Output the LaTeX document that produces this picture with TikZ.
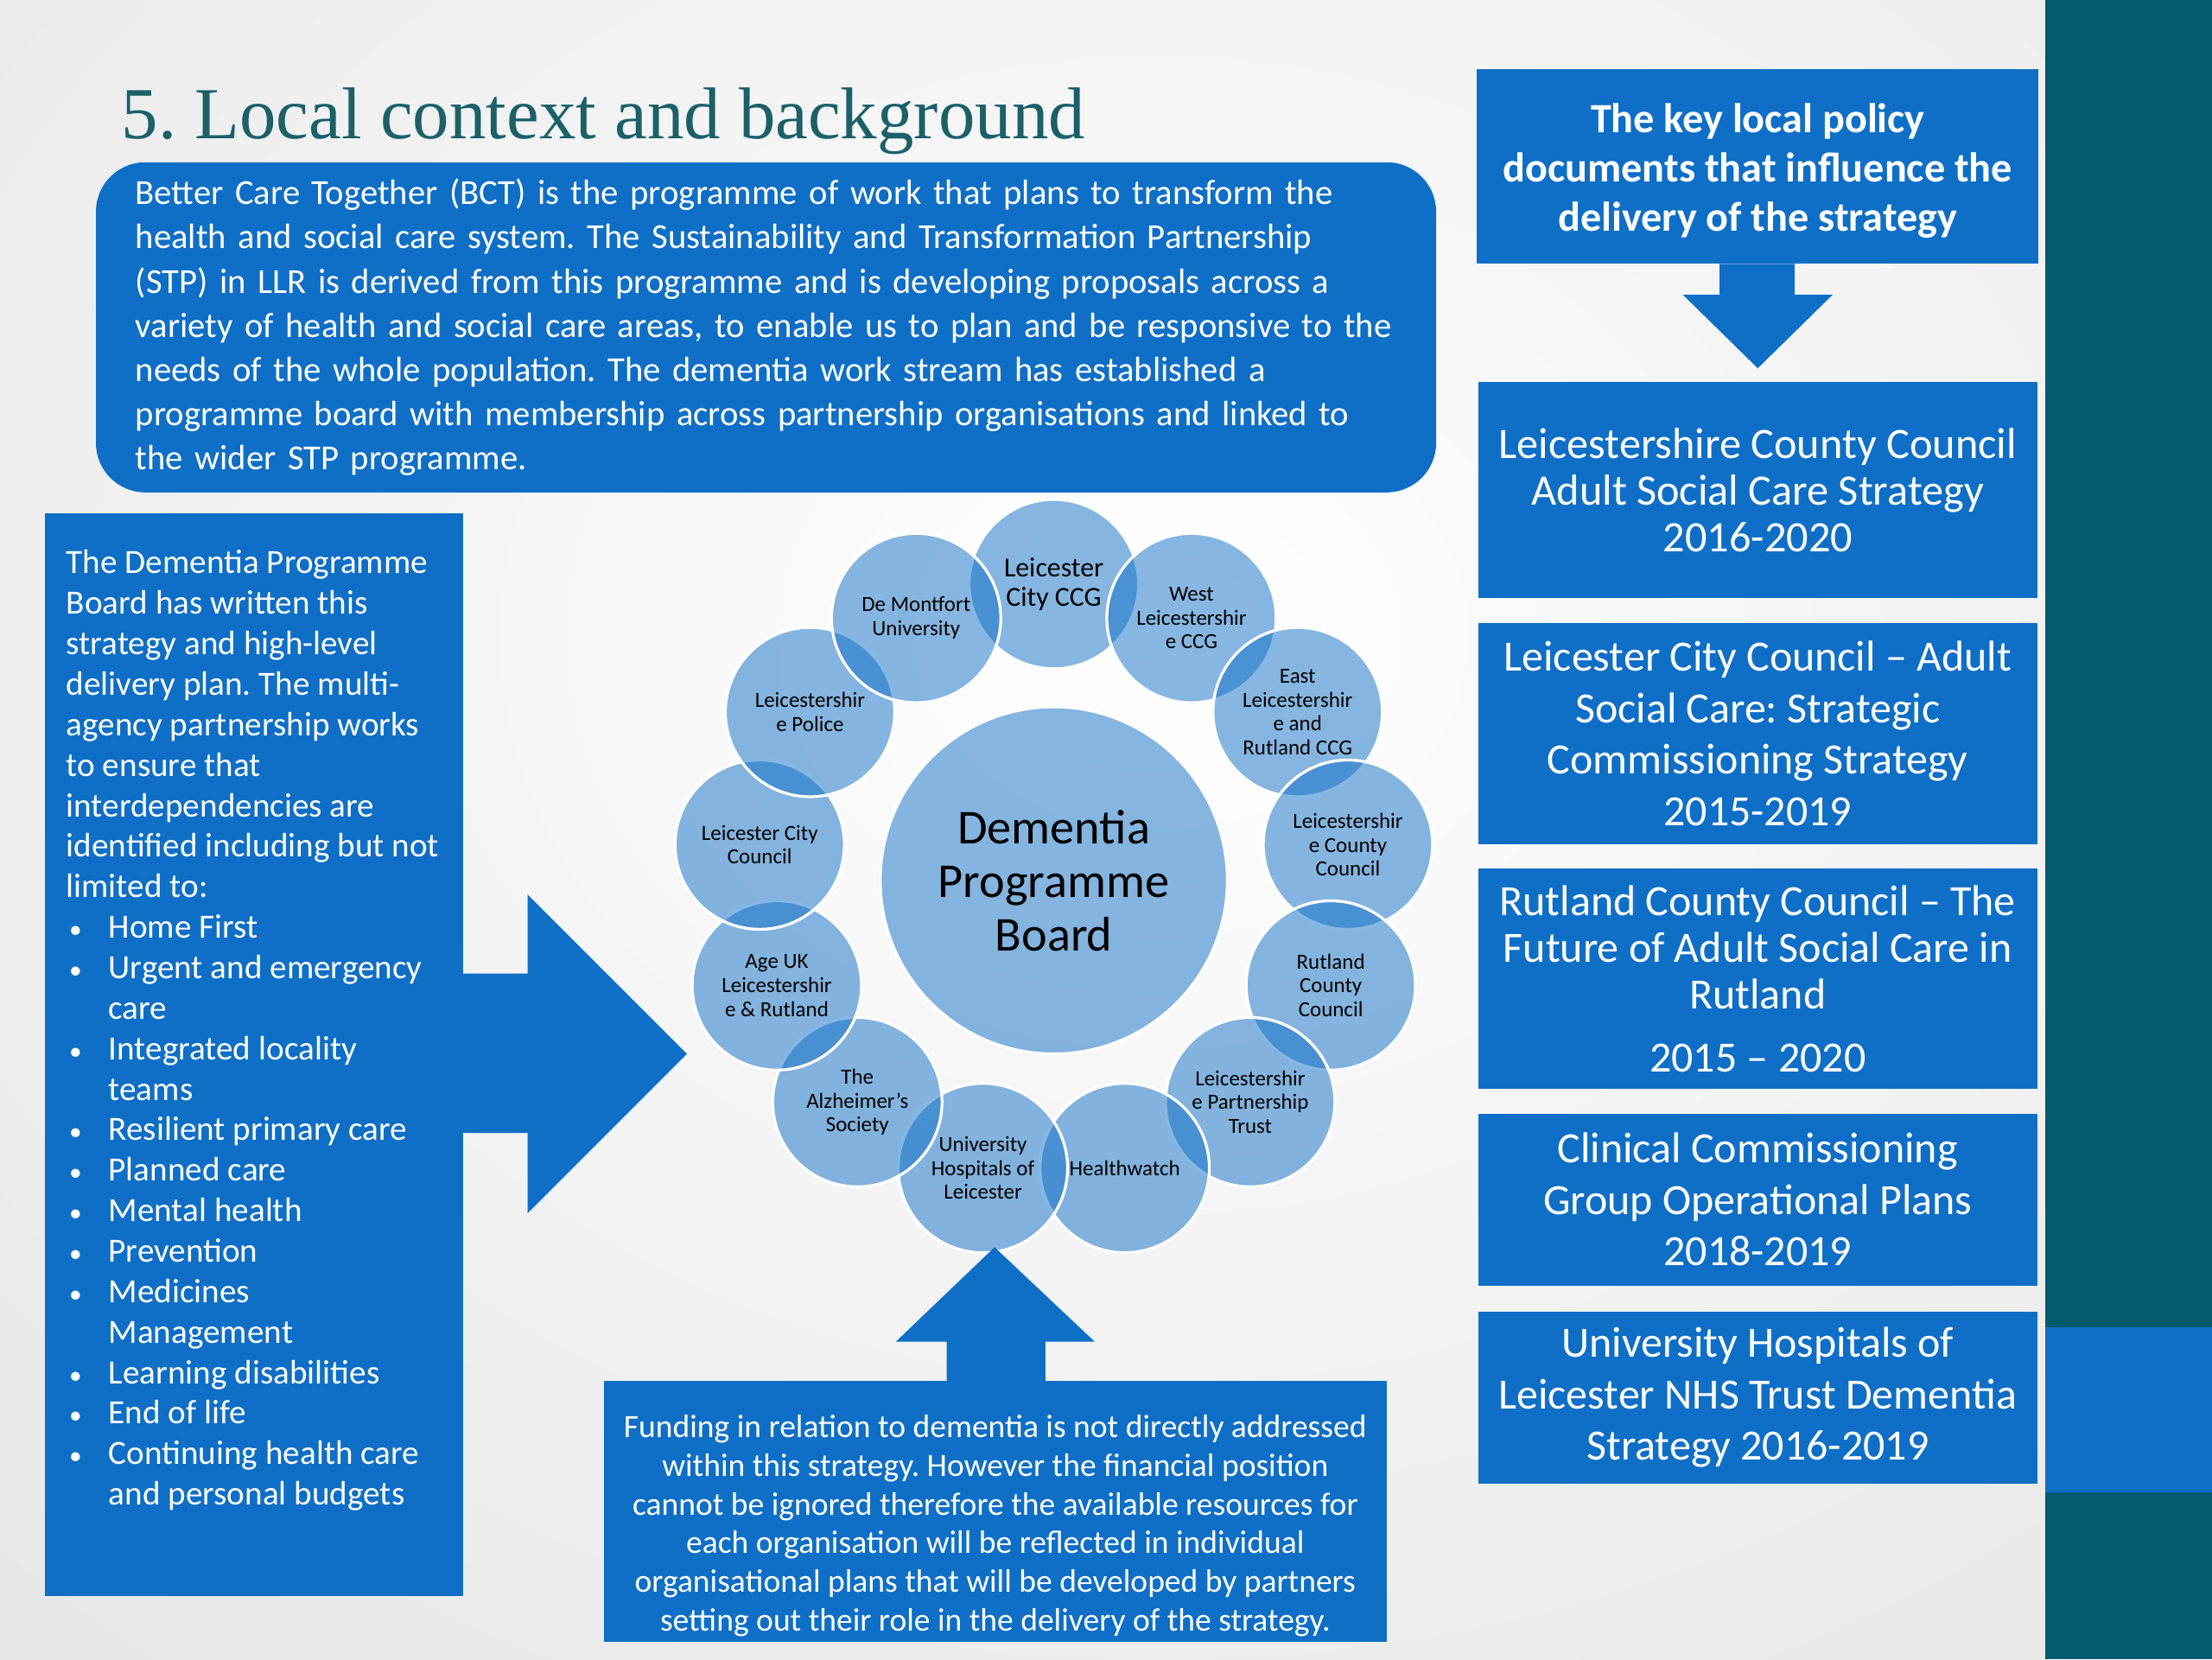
\documentclass[tikz,border=0pt]{standalone}
\usepackage{fontspec}
\setmainfont{Carlito}
\newfontfamily\titlefont{Liberation Serif}
\usetikzlibrary{positioning}
\definecolor{boxblue}{RGB}{15,111,198}
\definecolor{stripeteal}{RGB}{5,90,110}
\definecolor{titleteal}{RGB}{28,96,104}
\newcommand{\bitem}[1]{\makebox[30pt][l]{\hspace{2pt}\scalebox{0.75}{\textbullet}}#1}
\newcommand{\bcont}[1]{\hspace*{30pt}#1}
\frenchspacing

\begin{document}
\begin{tikzpicture}[x = 1pt, y = -1pt,
    title/.style = {text = titleteal, inner sep = 0pt, font = \titlefont\fontsize{52}{60}\selectfont},
    bluebox/.style = {fill = boxblue, text = white, inner sep = 0pt, align = center},
    roundbox/.style = {bluebox, rounded corners = 35pt, align = left, font = \fontsize{24.9}{31.3}\selectfont},
    docbox/.style = {bluebox, minimum width = 396pt, font = \fontsize{30.6}{36.5}\selectfont},
    member/.style = {circle, fill = boxblue, fill opacity = 0.5, text opacity = 1, text = black, draw = white, line width = 2pt, minimum size = 120pt, inner sep = 0pt, align = center, font = \fontsize{15.3}{17}\selectfont},
    membertop/.style = {member, font = \fontsize{19.5}{21}\selectfont},
    board/.style = {member, minimum size = 246pt, font = \fontsize{34.5}{38}\selectfont},
    ]
    \useasboundingbox (0,0) rectangle (1568,1176);
    % background and side stripe
    \begin{scope}
        \clip (0,0) rectangle (1450,1176);
        \shade[inner color = white, outer color = black!16] (820,450) ellipse [x radius = 2000, y radius = 1600];
    \end{scope}
    \fill[stripeteal] (1450,0) rectangle (1568,1176);
    \fill[boxblue] (1450,941) rectangle (1568,1058);

    \node[title, anchor = base west] (heading) at (86,98) {5. Local context and background};

    \node[roundbox, minimum width = 950pt, minimum height = 234pt, text width = 894pt] (bct) at (543,232) {Better Care Together (BCT) is the programme of work that plans to transform the\\
        health and social care system. The Sustainability and Transformation Partnership\\
        (STP) in LLR is derived from this programme and is developing proposals across a\\
        variety of health and social care areas, to enable us to plan and be responsive to the\\
        needs of the whole population. The dementia work stream has established a\\
        programme board with membership across partnership organisations and linked to\\
        the wider STP programme.};

    % left text box and its arrow
    \node[bluebox, minimum width = 296pt, minimum height = 767pt] (board-box) at (180,747.5) {};
    \node[text = white, inner sep = 0pt, align = left, anchor = north west, font = \fontsize{24}{28.7}\selectfont] (board-text) at ([xshift = 15pt, yshift = -26pt]board-box.north west) {The Dementia Programme\\
        Board has written this\\
        strategy and high-level\\
        delivery plan. The multi-\\
        agency partnership works\\
        to ensure that\\
        interdependencies are\\
        identified including but not\\
        limited to:\\
        \bitem{Home First}\\
        \bitem{Urgent and emergency}\\
        \bcont{care}\\
        \bitem{Integrated locality}\\
        \bcont{teams}\\
        \bitem{Resilient primary care}\\
        \bitem{Planned care}\\
        \bitem{Mental health}\\
        \bitem{Prevention}\\
        \bitem{Medicines}\\
        \bcont{Management}\\
        \bitem{Learning disabilities}\\
        \bitem{End of life}\\
        \bitem{Continuing health care}\\
        \bcont{and personal budgets}};
    \fill[boxblue] (328,690) -- (374,690) -- (374,634) -- (487,747) -- (374,860) -- (374,803) -- (328,803) -- cycle;

    % the partnership ring
    \node[board] (board) at (747,624) {Dementia\\Programme\\Board};
    \foreach \sty/\lbl [count = \i] in {membertop/{Leicester\\City CCG},
        member/{West\\Leicestershir\\e CCG},
        member/{East\\Leicestershir\\e and\\Rutland CCG},
        member/{Leicestershir\\e County\\Council},
        member/{Rutland\\County\\Council},
        member/{Leicestershir\\e Partnership\\Trust},
        member/{Healthwatch},
        member/{University\\Hospitals of\\Leicester},
        member/{The\\Alzheimer's\\Society},
        member/{Age UK\\Leicestershir\\e \& Rutland},
        member/{Leicester City\\Council},
        member/{Leicestershir\\e Police},
        member/{De Montfort\\University}}
        \node[\sty] (member\i) at ([shift = {({-90+(\i-1)*360/13}:210)}]board.center) {\lbl};

    % funding box and its arrow
    \node[bluebox, minimum width = 555pt, minimum height = 185pt] (fund) at (705.5,1071.5) {};
    \node[text = white, inner sep = 0pt, align = center, font = \fontsize{23}{27.4}\selectfont] (fund-text) at ([yshift = -10pt]fund.center) {Funding in relation to dementia is not directly addressed\\
        within this strategy. However the financial position\\
        cannot be ignored therefore the available resources for\\
        each organisation will be reflected in individual\\
        organisational plans that will be developed by partners\\
        setting out their role in the delivery of the strategy.};
    \fill[boxblue] (671,979) -- (671,951) -- (635,951) -- (705,884) -- (776,951) -- (741,951) -- (741,979) -- cycle;

    % policy documents
    \node[bluebox, minimum width = 398pt, minimum height = 138pt] (policy) at (1246,118) {};
    \node[text = white, inner sep = 0pt, align = center, font = \bfseries\fontsize{29.5}{35}\selectfont] (policy-text) at ([yshift = -3pt]policy.center) {The key local policy\\documents that influence the\\delivery of the strategy};
    \fill[boxblue] (1219,187) -- (1272,187) -- (1272,209) -- (1299,209) -- (1246,261) -- (1193,209) -- (1219,209) -- cycle;
    \node[docbox, minimum height = 153pt, font = \fontsize{30.8}{33}\selectfont] (doc1) at (1246,347.5) {Leicestershire County Council\\Adult Social Care Strategy\\2016-2020};
    \node[docbox, minimum height = 157pt, below = 17pt of doc1] (doc2) {Leicester City Council – Adult\\Social Care: Strategic\\Commissioning Strategy\\2015-2019};
    \node[docbox, minimum height = 156pt, below = 17pt of doc2, font = \fontsize{30.6}{33}\selectfont] (doc3) {Rutland County Council – The\\Future of Adult Social Care in\\Rutland\\[12pt]2015 – 2020};
    \node[docbox, minimum height = 122pt, below = 17pt of doc3] (doc4) {Clinical Commissioning\\Group Operational Plans\\2018-2019};
    \node[docbox, minimum height = 122pt, below = 18pt of doc4] (doc5) {University Hospitals of\\Leicester NHS Trust Dementia\\Strategy 2016-2019};
\end{tikzpicture}
\end{document}
